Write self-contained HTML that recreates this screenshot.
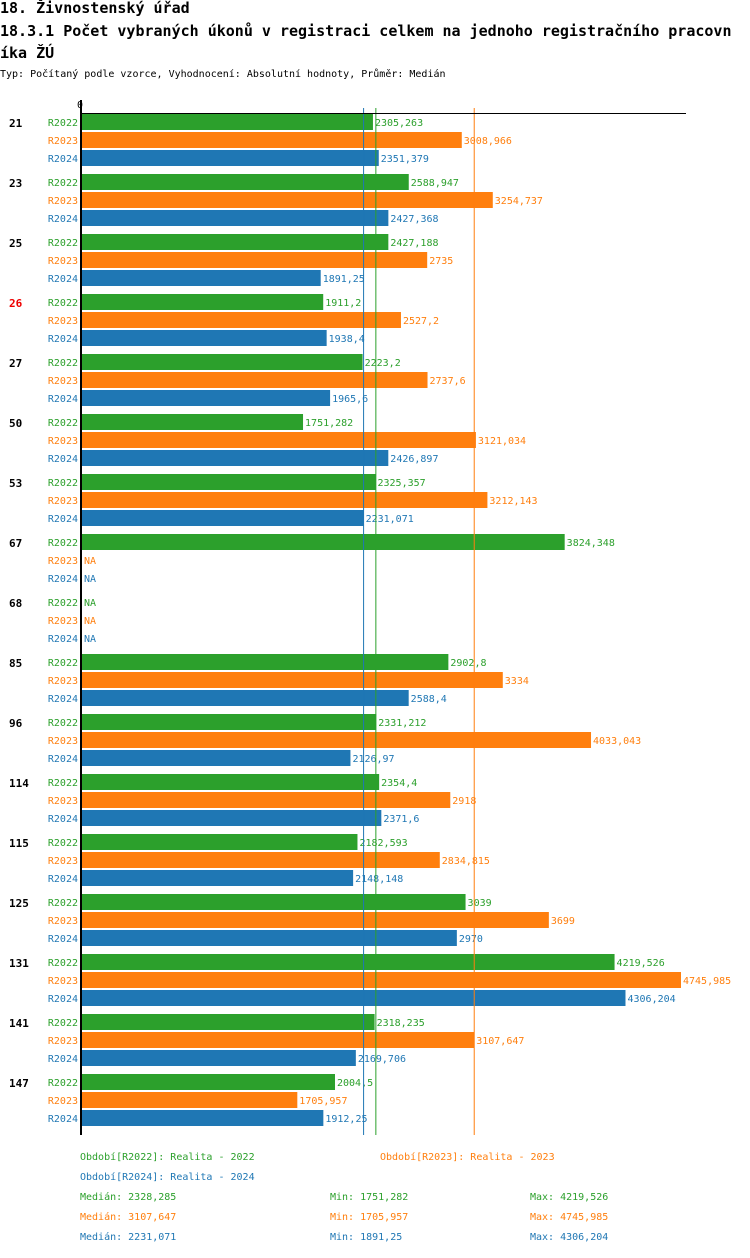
<!DOCTYPE html>
<html><head><meta charset="utf-8"><style>
body{margin:0;background:#fff;width:750px;height:1254px;overflow:hidden;font-family:"DejaVu Sans Mono","Liberation Mono",monospace;}
svg text{font-family:"DejaVu Sans Mono","Liberation Mono",monospace;}
</style></head><body>
<svg id="chart" width="750" height="1254" xmlns="http://www.w3.org/2000/svg">
<text x="0" y="13" font-size="15" font-weight="bold">18. Živnostenský úřad</text>
<text x="0" y="36" font-size="15" font-weight="bold">18.3.1 Počet vybraných úkonů v registraci celkem na jednoho registračního pracovn</text>
<text x="0" y="58" font-size="15" font-weight="bold">íka ŽÚ</text>
<text x="0" y="77" font-size="10">Typ: Počítaný podle vzorce, Vyhodnocení: Absolutní hodnoty, Průměr: Medián</text>
<text x="80" y="108" font-size="10" text-anchor="middle">0</text>
<g id="g"></g>
</svg>
<script>
const categories=["21","23","25","26","27","50","53","67","68","85","96","114","115","125","131","141","147"];
const r2022=[2305.263,2588.947,2427.188,1911.2,2223.2,1751.282,2325.357,3824.348,null,2902.8,2331.212,2354.4,2182.593,3039,4219.526,2318.235,2004.5];
const r2023=[3008.966,3254.737,2735,2527.2,2737.6,3121.034,3212.143,null,null,3334,4033.043,2918,2834.815,3699,4745.985,3107.647,1705.957];
const r2024=[2351.379,2427.368,1891.25,1938.4,1965.6,2426.897,2231.071,null,null,2588.4,2126.97,2371.6,2148.148,2970,4306.204,2169.706,1912.25];
const seriesNames=["R2022","R2023","R2024"];
const medians=[2328.285,3107.647,2231.071];
const mins=["1751,282","1705,957","1891,25"];
const maxs=["4219,526","4745,985","4306,204"];
const medLabels=["2328,285","3107,647","2231,071"];
const highlight="26";
const colors=["#2ca02c","#ff7f0e","#1f77b4"];
const NS="http://www.w3.org/2000/svg";
const g=document.getElementById('g');
const maxV=4745.985;
const x=v=>82+v*599/maxV;
const fmt=v=>String(v).replace('.',',');
function mk(t,a,txt){const e=document.createElementNS(NS,t);for(const k in a)e.setAttribute(k,a[k]);if(txt!=null)e.textContent=txt;g.appendChild(e);return e;}
const series=[r2022,r2023,r2024];
categories.forEach((c,i)=>{
  const y0=114+60*i;
  const cl=mk('text',{x:9,y:y0+13,'font-size':11,'font-weight':'bold',fill:c===highlight?'#e00':'#000'},c);
  
  
  series.forEach((s,j)=>{
    const y=y0+18*j;const v=s[i];
    const sl=mk('text',{x:78,y:y+12,'font-size':10,'text-anchor':'end',fill:colors[j]},seriesNames[j]);
    
    
    if(v!=null){
      const r=mk('rect',{x:82,y:y,width:x(v)-82,height:16,fill:colors[j]});
      
      
    }
    const vl=mk('text',{x:(v!=null?x(v):82)+2,y:y+12,'font-size':10,fill:colors[j]},v!=null?fmt(v):'NA');
    
    
  });
});
medians.forEach((m,j)=>{
  const l=mk('line',{x1:x(m),x2:x(m),y1:108,y2:1135,stroke:colors[j],'stroke-width':1});
  
  
});
const ax=mk('line',{x1:81,x2:81,y1:100,y2:1135,stroke:'#000','stroke-width':2});


const tx=mk('line',{x1:80,x2:686,y1:113.5,y2:113.5,stroke:'#000','stroke-width':1});


const leg=[[80,1160,0,"Období[R2022]: Realita - 2022"],[380,1160,1,"Období[R2023]: Realita - 2023"],[80,1180,2,"Období[R2024]: Realita - 2024"]];
leg.forEach(a=>{const t=mk('text',{x:a[0],y:a[1],'font-size':10,fill:colors[a[2]]},a[3]);
  
  });
[0,1,2].forEach(j=>{const y=1200+20*j;
  const a=mk('text',{x:80,y:y,'font-size':10,fill:colors[j]},'Medián: '+medLabels[j]);
  
  
  const b=mk('text',{x:330,y:y,'font-size':10,fill:colors[j]},'Min: '+mins[j]);
  
  
  const d=mk('text',{x:530,y:y,'font-size':10,fill:colors[j]},'Max: '+maxs[j]);
  
  
});
</script>
</body></html>
